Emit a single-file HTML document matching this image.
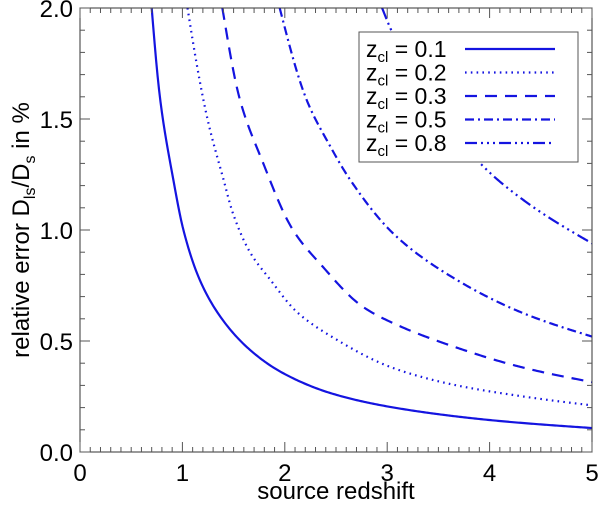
<!DOCTYPE html>
<html><head><meta charset="utf-8"><style>
html,body{margin:0;padding:0;background:#fff;}
svg{display:block;font-family:"Liberation Sans",sans-serif;}
</style></head><body>
<svg id="chart" width="600" height="508" viewBox="0 0 600 508" xmlns="http://www.w3.org/2000/svg">
<defs><clipPath id="plotclip"><rect x="80" y="8" width="512" height="444"/></clipPath></defs>
<g id="curves" clip-path="url(#plotclip)"></g>
<rect x="80" y="8" width="512" height="444" fill="none" stroke="#333" stroke-width="1"/>
<g id="ticks"></g>
<g id="labels" font-size="24" fill="#000"></g>
<text x="336" y="499" font-size="24" text-anchor="middle">source redshift</text>
<text transform="translate(29,230) rotate(-90)" font-size="24" text-anchor="middle">relative error D<tspan font-size="16" dy="6">ls</tspan><tspan dy="-6">/D</tspan><tspan font-size="16" dy="6">s</tspan><tspan dy="-6"> in %</tspan></text>
<g id="legend">
<rect x="359" y="32" width="219" height="130" fill="#fff" stroke="#555" stroke-width="1"/>
</g>
</svg>
<script>
const zcl = ["0.1","0.2","0.3","0.5","0.8"];
const xs01 = [0.70,0.78,0.91,1.01,1.17,1.37,1.66,1.98,2.47,3.03,4.0,5.0];
const ys01 = [2.0,1.6,1.23,1.0,0.775,0.61,0.46,0.356,0.262,0.203,0.144,0.108];
const xs02 = [1.05,1.24,1.40,1.49,1.66,1.86,2.12,2.51,3.06,3.68,4.33,5.0];
const ys02 = [2.0,1.51,1.23,1.08,0.90,0.775,0.63,0.505,0.378,0.30,0.25,0.21];
const xs03 = [1.39,1.56,1.79,2.08,2.37,2.76,3.06,3.68,4.33,5.0];
const ys03 = [2.0,1.59,1.30,1.0,0.835,0.655,0.58,0.47,0.38,0.315];
const xs05 = [1.95,2.21,2.44,2.64,3.08,3.68,4.33,5.0];
const ys05 = [2.0,1.59,1.38,1.225,0.975,0.775,0.625,0.52];
const xs08 = [2.95,3.05,3.91,4.33,5.0];
const ys08 = [2.0,1.89,1.30,1.135,0.94];
const xTicks = ["0","1","2","3","4","5"];
const yTicks = ["0.0","0.5","1.0","1.5","2.0"];

const NS="http://www.w3.org/2000/svg";
const X0=80,X1=592,Y0=452,Y1=8;
function sx(v){return X0+(v-0)/5*(X1-X0);}
function sy(v){return Y0-(v-0)/2*(Y0-Y1);}
const color="#1414e0";
const dashes=["none","1.6 4.2","12 8","9 4 2 4","12 4 2 4 2 4 2 4"];
const series=[[xs01,ys01],[xs02,ys02],[xs03,ys03],[xs05,ys05],[xs08,ys08]];
function interp(xa,ya){
  const n=xa.length, ly=ya.map(Math.log);
  const d=[],m=[];
  for(let i=0;i<n-1;i++)d.push((ly[i+1]-ly[i])/(xa[i+1]-xa[i]));
  m[0]=d[0];m[n-1]=d[n-2];
  for(let i=1;i<n-1;i++){m[i]=(d[i-1]*d[i]<=0)?0:2/(1/d[i-1]+1/d[i]);}
  return function(x){
    let i=0;while(i<n-2&&x>xa[i+1])i++;
    const h=xa[i+1]-xa[i],t=(x-xa[i])/h,t2=t*t,t3=t2*t;
    const v=(2*t3-3*t2+1)*ly[i]+(t3-2*t2+t)*h*m[i]+(-2*t3+3*t2)*ly[i+1]+(t3-t2)*h*m[i+1];
    return Math.exp(v);
  };
}
function pathFor(xa,ya){
  const f=interp(xa,ya);const N=300;let d="";
  for(let k=0;k<=N;k++){const x=xa[0]+(xa[xa.length-1]-xa[0])*k/N;
    d+=(k?" L":"M")+sx(x).toFixed(2)+","+sy(f(x)).toFixed(2);}
  return d;
}
const cg=document.getElementById("curves");
series.forEach((s,i)=>{
  const path=document.createElementNS(NS,"path");
  path.setAttribute("d",pathFor(s[0],s[1]));
  path.setAttribute("fill","none");path.setAttribute("stroke",color);
  path.setAttribute("stroke-width","2.2");
  if(dashes[i]!=="none")path.setAttribute("stroke-dasharray",dashes[i]);
  
  
  cg.appendChild(path);
});
const tg=document.getElementById("ticks");
function line(x1,y1,x2,y2){const l=document.createElementNS(NS,"line");l.setAttribute("x1",x1);l.setAttribute("y1",y1);l.setAttribute("x2",x2);l.setAttribute("y2",y2);l.setAttribute("stroke","#555");l.setAttribute("stroke-width","1");tg.appendChild(l);return l;}
for(let k=0;k<=50;k++){const x=sx(k*0.1);const len=k%10===0?10:5;
  const a=line(x,Y0,x,Y0-len);
  const b=line(x,Y1,x,Y1+len);}
for(let k=0;k<=20;k++){const y=sy(k*0.1);const len=k%5===0?10:5;
  const a=line(X0,y,X0+len,y);
  const b=line(X1,y,X1-len,y);}
const lg=document.getElementById("labels");
xTicks.forEach(t=>{const e=document.createElementNS(NS,"text");e.setAttribute("x",sx(+t));e.setAttribute("y",481);e.setAttribute("text-anchor","middle");e.textContent=t;
  lg.appendChild(e);});
yTicks.forEach(t=>{const e=document.createElementNS(NS,"text");e.setAttribute("x",73);e.setAttribute("y",sy(+t)+9);e.setAttribute("text-anchor","end");e.textContent=t;
  lg.appendChild(e);});
const leg=document.getElementById("legend");
zcl.forEach((z,i)=>{const y=49+i*23.5;
  const t=document.createElementNS(NS,"text");t.setAttribute("x",366);t.setAttribute("y",y+8);t.setAttribute("font-size","23");
  t.innerHTML='z<tspan font-size="15" dy="5">cl</tspan><tspan dy="-5"> = '+z+'</tspan>';
  leg.appendChild(t);
  const l=document.createElementNS(NS,"line");l.setAttribute("x1",465);l.setAttribute("x2",555);l.setAttribute("y1",y);l.setAttribute("y2",y);
  l.setAttribute("stroke",color);l.setAttribute("stroke-width","2.2");if(dashes[i]!=="none")l.setAttribute("stroke-dasharray",dashes[i]);
  leg.appendChild(l);
});
</script>
</body></html>
